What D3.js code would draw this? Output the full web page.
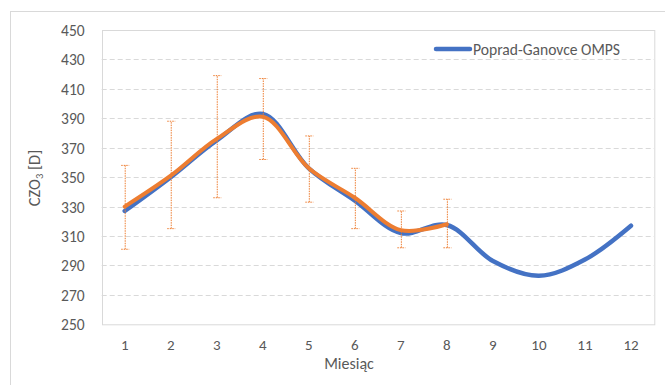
<!DOCTYPE html>
<html>
<head>
    <meta charset="UTF-8">
    <title>CZO3</title>
    <script src="https://cdn.jsdelivr.net/npm/d3@7"></script>
    <style>
        body { margin: 0; background: #fff; }
        text { font-family: Calibri, Carlito, "Open Sans", sans-serif; fill: #595959; }
    </style>
</head>
<body>
<svg id="chart"></svg>
<script>
    // months and series
    var months = [1, 2, 3, 4, 5, 6, 7, 8, 9, 10, 11, 12];
    var omps = [327, 350, 375, 393, 356, 334, 312, 317.5, 293, 283, 294, 317];
    var ground = [330, 351, 376, 391, 356, 336, 314, 318];
    var errLow = [301, 315, 336, 362, 333, 315, 302, 302];
    var errHigh = [358, 388, 419, 417, 378, 356, 327, 335];
    var yTicks = [250, 270, 290, 310, 330, 350, 370, 390, 410, 430, 450];

    var w = 665, h = 385;
    var pl = 101.7, pr = 654, pt = 30, pb = 324.3;

    var svg = d3.select("#chart").attr("width", w).attr("height", h);

    // outer chart border
    svg.append("rect")
        .attr("x", 10.5).attr("y", 11.5)
        .attr("width", 700).attr("height", 400)
        .attr("fill", "none").attr("stroke", "#d9d9d9");

    var x = d3.scaleBand().domain(months).range([pl, pr]);
    var y = d3.scaleLinear().domain([250, 450]).range([pb, pt]);
    var cx = function (m) { return x(m) + x.bandwidth() / 2; };

    // gridlines
    svg.append("g").selectAll("line").data(yTicks.slice(1, -1)).enter().append("line")
        .attr("x1", pl).attr("x2", pr)
        .attr("y1", function (d) { return Math.round(y(d)) + 0.5; })
        .attr("y2", function (d) { return Math.round(y(d)) + 0.5; })
        .attr("stroke", "#d9d9d9").attr("stroke-dasharray", "5,3");

    // plot area border
    svg.append("rect")
        .attr("x", Math.round(pl) + 0.5).attr("y", pt + 0.5)
        .attr("width", pr - pl).attr("height", pb - pt)
        .attr("fill", "none").attr("stroke", "#d9d9d9");

    // axes (labels only)
    var yAxis = svg.append("g")
        .attr("transform", "translate(" + (pl - 14) + ",0)")
        .call(d3.axisLeft(y).tickValues(yTicks).tickSize(0));
    yAxis.select(".domain").remove();
    yAxis.selectAll("text").attr("font-size", "15.5px").attr("dy", "0.35em")
        .style("fill", "#595959");

    var xAxis = svg.append("g")
        .attr("transform", "translate(0," + (pb + 12) + ")")
        .call(d3.axisBottom(x).tickSize(0));
    xAxis.select(".domain").remove();
    xAxis.selectAll("text").attr("font-size", "15px").style("fill", "#595959");

    // axis titles
    svg.append("text")
        .attr("x", 349).attr("y", 369)
        .attr("text-anchor", "middle").attr("font-size", "16px")
        .text("Miesiąc");

    var yt = svg.append("text")
        .attr("transform", "translate(40,178) rotate(-90)")
        .attr("text-anchor", "middle").attr("font-size", "16.5px");
    yt.append("tspan").text("CZO");
    yt.append("tspan").attr("font-size", "10.5px").attr("dy", 3).text("3");
    yt.append("tspan").attr("dy", -3).text(" [D]");

    var line = d3.line()
        .x(function (d, i) { return cx(months[i]); })
        .y(function (d) { return y(d); })
        .curve(d3.curveCatmullRom.alpha(0.5));

    svg.append("path").datum(omps)
        .attr("d", line)
        .attr("fill", "none").attr("stroke", "#4472c4")
        .attr("stroke-width", 4.5).attr("stroke-linecap", "round");

    // error bars
    var eb = svg.append("g").selectAll("g").data(ground).enter().append("g")
        .attr("stroke", "#ed7d31").attr("stroke-width", 1).attr("stroke-dasharray", "1.5,1");
    eb.append("line")
        .attr("x1", function (d, i) { return cx(months[i]) + 0.5; })
        .attr("x2", function (d, i) { return cx(months[i]) + 0.5; })
        .attr("y1", function (d, i) { return y(errLow[i]); })
        .attr("y2", function (d, i) { return y(errHigh[i]); });
    [errLow, errHigh].forEach(function (arr) {
        eb.append("line")
            .attr("x1", function (d, i) { return cx(months[i]) - 3.5; })
            .attr("x2", function (d, i) { return cx(months[i]) + 4.5; })
            .attr("y1", function (d, i) { return y(arr[i]); })
            .attr("y2", function (d, i) { return y(arr[i]); });
    });

    svg.append("path").datum(ground)
        .attr("d", line)
        .attr("fill", "none").attr("stroke", "#ed7d31")
        .attr("stroke-width", 4).attr("stroke-linecap", "round");

    // legend
    svg.append("line")
        .attr("x1", 436).attr("x2", 470).attr("y1", 49).attr("y2", 49)
        .attr("stroke", "#4472c4").attr("stroke-width", 4.5).attr("stroke-linecap", "round");
    svg.append("text")
        .attr("x", 473).attr("y", 54.5).attr("font-size", "15.6px")
        .text("Poprad-Ganovce OMPS");
</script>
</body>
</html>
